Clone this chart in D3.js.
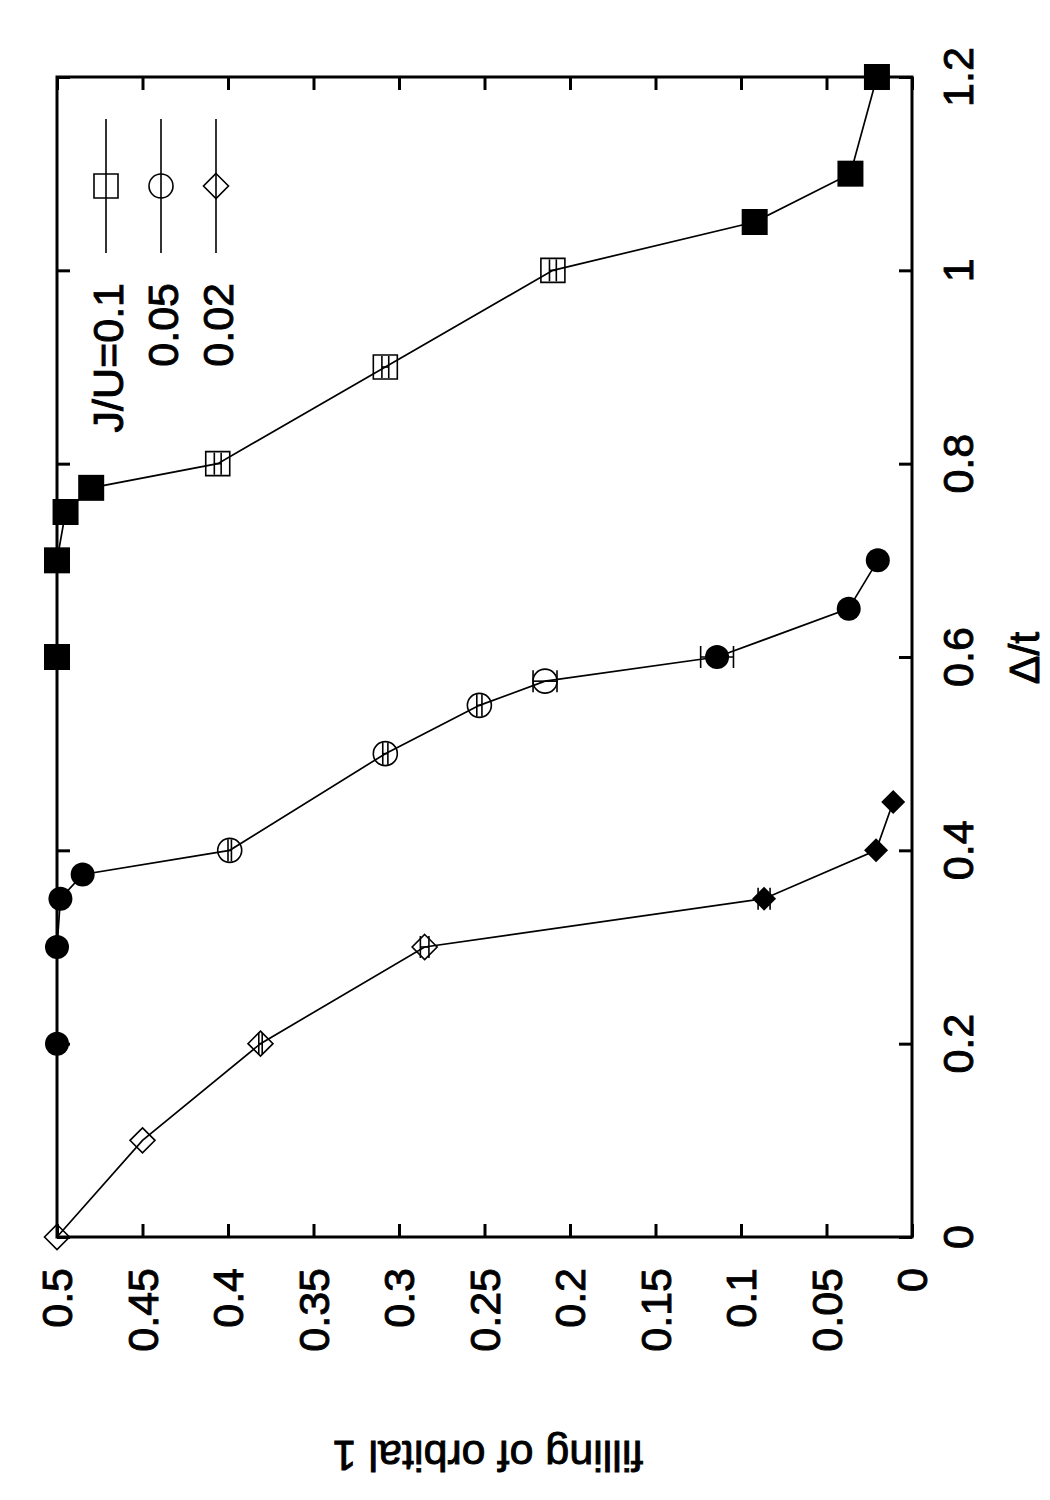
<!DOCTYPE html>
<html lang="en">
  <head>
    <meta charset="UTF-8" />
    <title>filling of orbital 1</title>
    <style>
      body { margin: 0; background: #fff; }
      text { font-family: "Liberation Sans", Arial, Helvetica, sans-serif; fill: #000; stroke: #000; stroke-width: 0.9px; }
    </style>
  </head>
  <body>
    <script src="https://cdn.jsdelivr.net/npm/d3@7"></script>
    <script>
    // values (the page is a gnuplot plot turned on its side)
    var fillTicks = [0, 0.05, 0.1, 0.15, 0.2, 0.25, 0.3, 0.35, 0.4, 0.45, 0.5];
    var fillLabels = ["0", "0.05", "0.1", "0.15", "0.2", "0.25", "0.3", "0.35", "0.4", "0.45", "0.5"];
    var deltaTicks = [0, 0.2, 0.4, 0.6, 0.8, 1, 1.2];
    var deltaLabels = ["0", "0.2", "0.4", "0.6", "0.8", "1", "1.2"];

    var legendNames = ["J/U=0.1", "0.05", "0.02"];

    // J/U = 0.1 (squares)
    var delta01 = [0.6, 0.7, 0.75, 0.775, 0.8, 0.9, 1.0, 1.05, 1.1, 1.2];
    var fill01  = [0.5, 0.5, 0.495, 0.48, 0.406, 0.308, 0.21, 0.092, 0.036, 0.0205];
    var err01   = [0, 0, 0, 0, 0.002, 0.002, 0.002, 0, 0, 0];
    var solid01 = [1, 1, 1, 1, 0, 0, 0, 1, 1, 1];

    // J/U = 0.05 (circles)
    var delta05 = [0.2, 0.3, 0.35, 0.375, 0.4, 0.5, 0.55, 0.575, 0.6, 0.65, 0.7];
    var fill05  = [0.5, 0.5, 0.498, 0.485, 0.399, 0.308, 0.253, 0.2146, 0.114, 0.037, 0.02];
    var err05   = [0, 0, 0, 0, 0.001, 0.0015, 0.0015, 0.007, 0.0096, 0.001, 0];
    var solid05 = [1, 1, 1, 1, 0, 0, 0, 0, 1, 1, 1];

    // J/U = 0.02 (diamonds)
    var delta02 = [0, 0.1, 0.2, 0.3, 0.35, 0.4, 0.45];
    var fill02  = [0.5, 0.45, 0.381, 0.285, 0.0865, 0.021, 0.011];
    var err02   = [0, 0, 0.001, 0.0025, 0.0035, 0, 0];
    var solid02 = [0, 0, 0, 0, 1, 1, 1];

    var w = 1050, h = 1500;
    var frameL = 57, frameR = 912, frameT = 77, frameB = 1237;
    var fs = 43;

    var diamond = {
      draw: function(ctx, size) {
        var r = Math.sqrt(size) / 2;
        ctx.moveTo(0, -r); ctx.lineTo(r, 0); ctx.lineTo(0, r); ctx.lineTo(-r, 0); ctx.closePath();
      }
    };

    var series = [
      {d: delta01, f: fill01, e: err01, s: solid01, type: d3.symbolSquare, size: 24 * 24, solidSize: 26 * 26},
      {d: delta05, f: fill05, e: err05, s: solid05, type: d3.symbolCircle, size: Math.PI * 12 * 12, solidSize: Math.PI * 12 * 12},
      {d: delta02, f: fill02, e: err02, s: solid02, type: diamond, size: 25 * 25, solidSize: 24 * 24}
    ];

    var svg = d3.select("body").append("svg")
      .attr("width", w).attr("height", h);

    // filling runs right-to-left, delta/t bottom-to-top
    var xScale = d3.scaleLinear().domain([0, 0.5]).range([frameR, frameL]);
    var yScale = d3.scaleLinear().domain([0, 1.2]).range([frameB, frameT]);

    // ticks, inside on all four sides
    function ticks(g) {
      g.select(".domain").remove();
      g.selectAll("line").attr("stroke", "#000").attr("stroke-width", 3);
      g.selectAll("text").remove();
    }
    svg.append("g").attr("transform", "translate(0," + frameB + ")")
      .call(d3.axisBottom(xScale).tickValues(fillTicks).tickSize(-13).tickFormat("")).call(ticks);
    svg.append("g").attr("transform", "translate(0," + frameT + ")")
      .call(d3.axisTop(xScale).tickValues(fillTicks).tickSize(-13).tickFormat("")).call(ticks);
    svg.append("g").attr("transform", "translate(" + frameR + ",0)")
      .call(d3.axisRight(yScale).tickValues(deltaTicks).tickSize(-13).tickFormat("")).call(ticks);
    svg.append("g").attr("transform", "translate(" + frameL + ",0)")
      .call(d3.axisLeft(yScale).tickValues(deltaTicks).tickSize(-13).tickFormat("")).call(ticks);

    // tick labels
    svg.selectAll(".flab")
      .data(fillTicks)
      .enter()
      .append("text")
      .attr("class", "flab")
      .attr("transform", function(d) { return "translate(" + xScale(d) + ",1268)rotate(-90)"; })
      .attr("text-anchor", "end")
      .attr("dominant-baseline", "central")
      .style("font-size", fs + "px")
      .text(function(d, i) { return fillLabels[i]; });

    svg.selectAll(".dlab")
      .data(deltaTicks)
      .enter()
      .append("text")
      .attr("class", "dlab")
      .attr("transform", function(d) { return "translate(973," + yScale(d) + ")rotate(-90)"; })
      .attr("text-anchor", "middle")
      .style("font-size", fs + "px")
      .text(function(d, i) { return deltaLabels[i]; });

    // axis titles
    svg.append("text")
      .text("\u0394/t")
      .attr("text-anchor", "middle")
      .style("font-size", fs + "px")
      .attr("transform", "translate(1039,658)rotate(-90)");
    svg.append("text")
      .text("filling of orbital 1")
      .attr("text-anchor", "middle")
      .style("font-size", fs + "px")
      .attr("transform", "translate(488,1441)rotate(180)");

    var line = d3.line()
      .x(function(p) { return xScale(p[1]); })
      .y(function(p) { return yScale(p[0]); });

    series.forEach(function(sr) {
      var pts = sr.d.map(function(v, i) { return [v, sr.f[i], sr.e[i], sr.s[i]]; });

      svg.append("path")
        .datum(pts)
        .attr("d", line)
        .attr("fill", "none")
        .attr("stroke", "#000")
        .attr("stroke-width", 1.7);

      svg.append("g").selectAll("path")
        .data(pts)
        .enter()
        .append("path")
        .attr("transform", function(p) { return "translate(" + xScale(p[1]) + "," + yScale(p[0]) + ")"; })
        .attr("d", function(p) { return d3.symbol().type(sr.type).size(p[3] ? sr.solidSize : sr.size)(); })
        .attr("fill", function(p) { return p[3] ? "#000" : "none"; })
        .attr("stroke", "#000")
        .attr("stroke-width", function(p) { return p[3] ? 0 : 1.6; });

      // error bars on the filling value (horizontal on the page)
      var eb = svg.append("g").selectAll("g")
        .data(pts.filter(function(p) { return p[2] > 0; }))
        .enter()
        .append("g")
        .attr("stroke", "#000")
        .attr("stroke-width", 1.6);
      eb.append("line")
        .attr("x1", function(p) { return xScale(p[1] - p[2]); })
        .attr("x2", function(p) { return xScale(p[1] + p[2]); })
        .attr("y1", function(p) { return yScale(p[0]); })
        .attr("y2", function(p) { return yScale(p[0]); });
      [-1, 1].forEach(function(sgn) {
        eb.append("line")
          .attr("x1", function(p) { return xScale(p[1] + sgn * p[2]); })
          .attr("x2", function(p) { return xScale(p[1] + sgn * p[2]); })
          .attr("y1", function(p) { return yScale(p[0]) - 11; })
          .attr("y2", function(p) { return yScale(p[0]) + 11; });
      });
    });

    // legend
    var legend = svg.append("g").selectAll("g")
      .data(legendNames)
      .enter()
      .append("g")
      .attr("transform", function(d, i) { return "translate(" + (123 + 55 * i) + ",0)"; });
    legend.append("text")
      .text(function(d) { return d; })
      .attr("text-anchor", "end")
      .style("font-size", fs + "px")
      .attr("transform", "translate(0,283)rotate(-90)");
    legend.append("line")
      .attr("x1", -17).attr("x2", -17)
      .attr("y1", 119).attr("y2", 253)
      .attr("stroke", "#000")
      .attr("stroke-width", 1.6);
    legend.append("path")
      .attr("transform", "translate(-17,186)")
      .attr("d", function(d, i) { return d3.symbol().type(series[i].type).size(series[i].size)(); })
      .attr("fill", "none")
      .attr("stroke", "#000")
      .attr("stroke-width", 1.6);

    // frame
    svg.append("rect")
      .attr("x", frameL).attr("y", frameT)
      .attr("width", frameR - frameL).attr("height", frameB - frameT)
      .attr("fill", "none")
      .attr("stroke", "#000")
      .attr("stroke-width", 3);
    </script>
  </body>
</html>
